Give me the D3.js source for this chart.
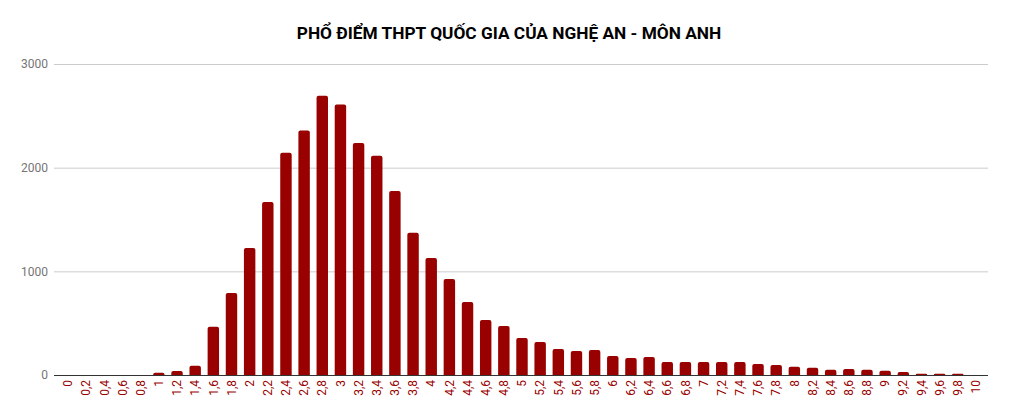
<!DOCTYPE html>
<html><head><meta charset="utf-8">
<script src="https://cdn.jsdelivr.net/npm/d3@7"></script>
<style>body{margin:0;background:#fff;}svg{display:block;font-family:Roboto,Arial,sans-serif;}</style>
</head><body><svg id="c" width="1009" height="418"></svg>
<script>
const categories = ["0","0,2","0,4","0,6","0,8","1","1,2","1,4","1,6","1,8","2","2,2","2,4","2,6","2,8","3","3,2","3,4","3,6","3,8","4","4,2","4,4","4,6","4,8","5","5,2","5,4","5,6","5,8","6","6,2","6,4","6,6","6,8","7","7,2","7,4","7,6","7,8","8","8,2","8,4","8,6","8,8","9","9,2","9,4","9,6","9,8","10"];
const counts = [0,0,0,0,0,22,38,90,466,791,1226,1670,2143,2358,2693,2609,2239,2114,1776,1371,1129,927,705,531,473,357,318,251,232,241,183,164,174,125,125,125,125,125,106,97,80,70,50,58,50,40,30,12,12,12,0];
const yTicks = [0,1000,2000,3000];
const title = "PHỔ ĐIỂM THPT QUỐC GIA CỦA NGHỆ AN - MÔN ANH";

const svg = d3.select("#c");
const x = d3.scaleBand().domain(categories).range([59,985]).paddingInner(0.37).paddingOuter(0.185);
const y = d3.scaleLinear().domain([0,3000]).range([375,64]);

svg.append("text").attr("x",509).attr("y",39).attr("text-anchor","middle")
  .attr("font-size",17.3).attr("font-weight","bold").attr("fill","#000").text(title);

const gy = svg.append("g").attr("transform","translate(54,0)")
  .call(d3.axisLeft(y).tickValues(yTicks).tickSize(-934).tickFormat(d3.format("d")));
gy.select(".domain").remove();
gy.selectAll(".tick line").attr("stroke","#cccccc");
gy.selectAll(".tick text").attr("x",-6).attr("fill","#757575").attr("font-size",12).attr("font-family","Roboto,Arial,sans-serif");

const r = 2;
svg.append("g").selectAll("path").data(categories.map((c,i)=>({c,v:counts[i]})).filter(d=>d.v>0))
  .join("path").attr("fill","#990000")
  .attr("d",d=>{
    const x0=x(d.c), w=x.bandwidth(), y0=y(d.v), y1=y(0), h=y1-y0, rr=Math.min(r,h);
    return `M${x0},${y1}V${y0+rr}Q${x0},${y0} ${x0+rr},${y0}H${x0+w-rr}Q${x0+w},${y0} ${x0+w},${y0+rr}V${y1}Z`;
  });

const gx = svg.append("g").attr("transform","translate(0,375)")
  .call(d3.axisBottom(x).tickSize(0));
gx.select(".domain").remove();
gx.selectAll(".tick text").attr("fill","#990000").attr("font-size",12).attr("font-family","Roboto,Arial,sans-serif")
  .attr("text-anchor","end").attr("dy","0.35em").attr("dx",0)
  .attr("transform","translate(0,5) rotate(-90)").attr("x",0).attr("y",0);

svg.append("line").attr("x1",54).attr("x2",988).attr("y1",375.5).attr("y2",375.5).attr("stroke","#333").attr("stroke-width",1);
</script></body></html>
